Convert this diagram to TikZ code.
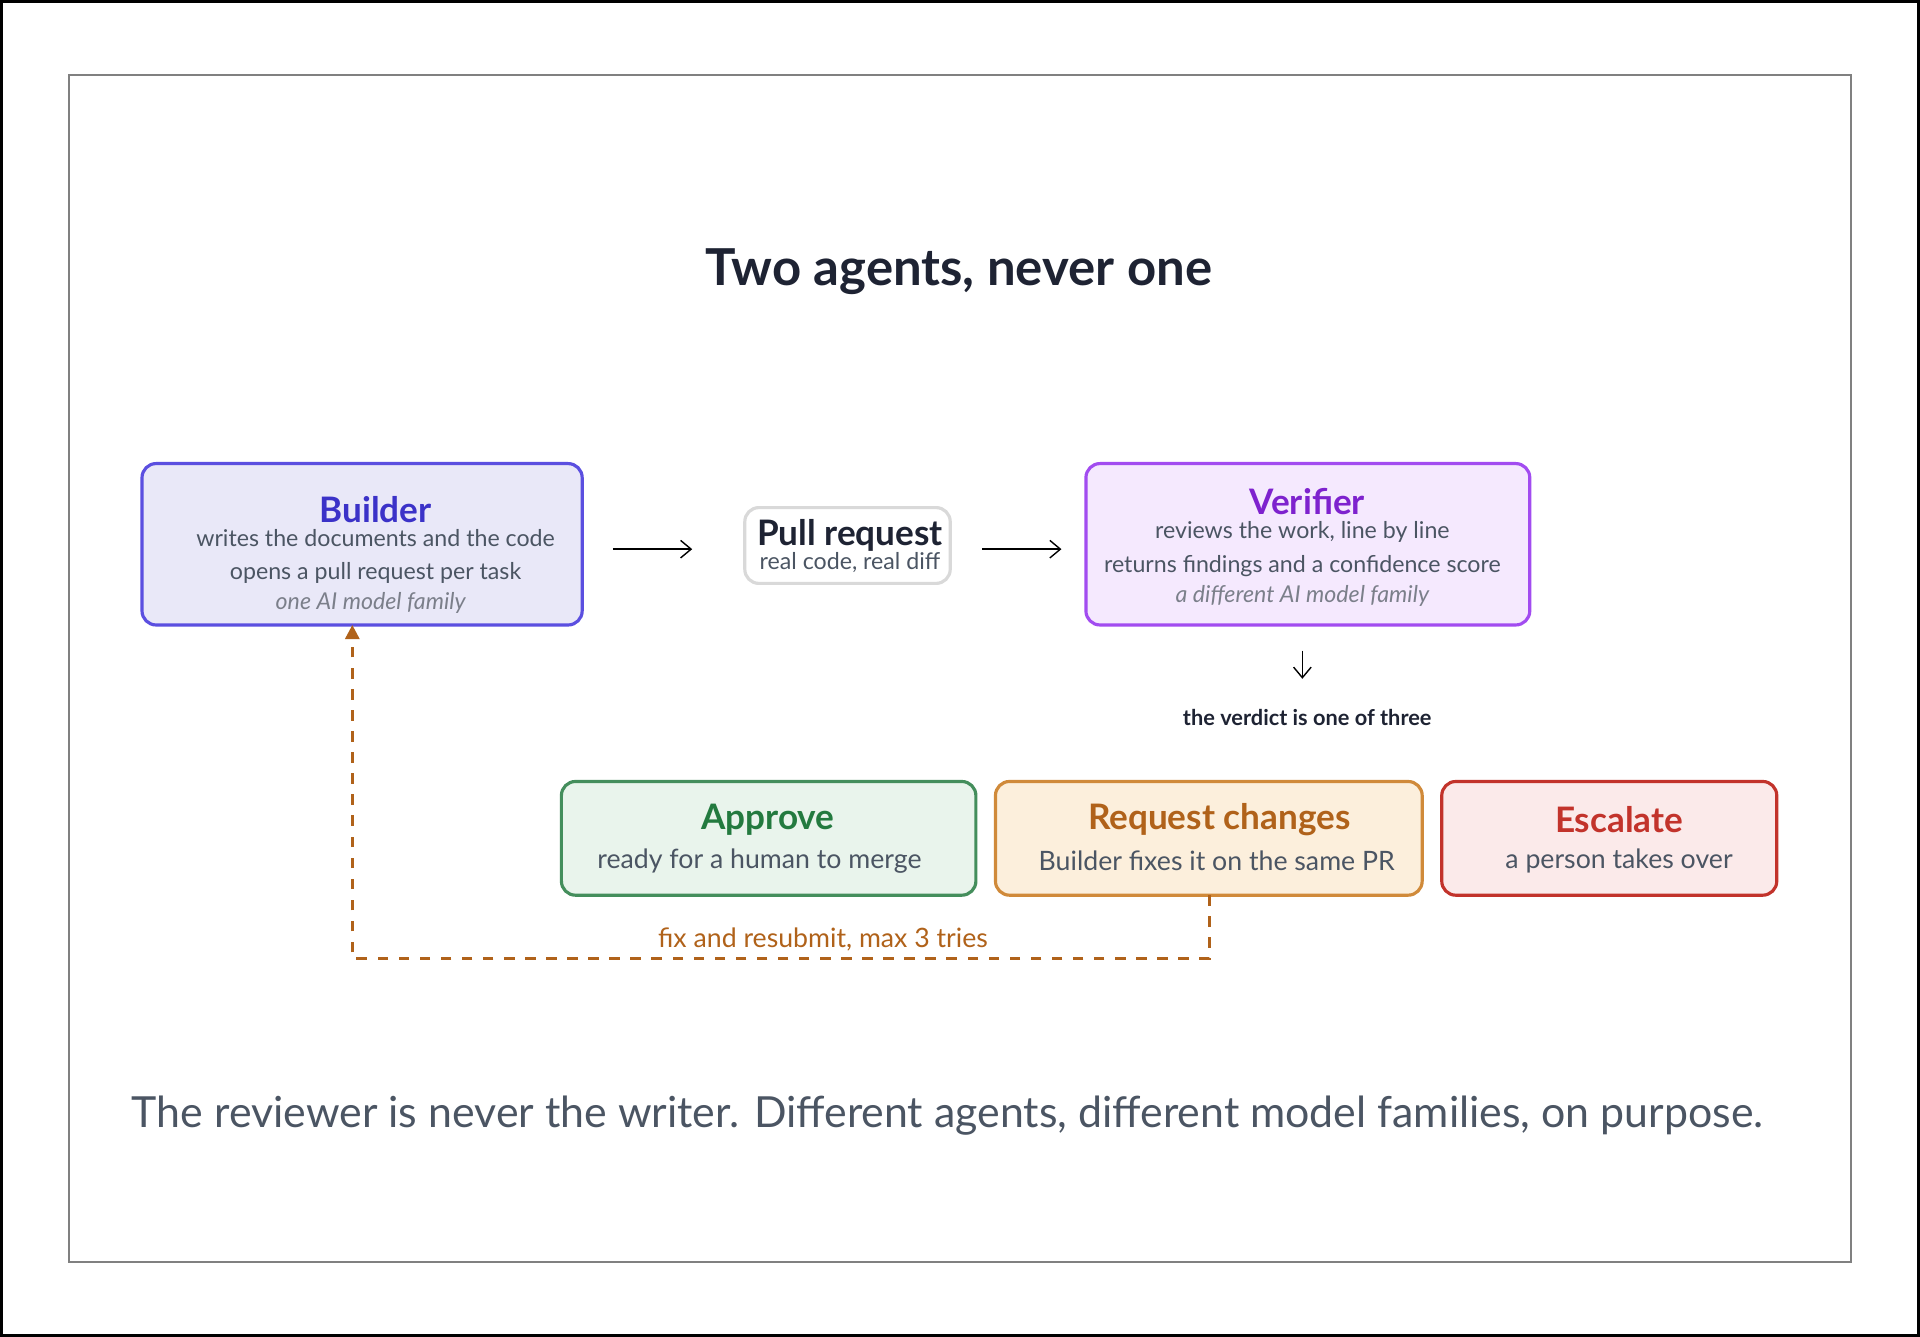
\documentclass[tikz,border=0pt]{standalone}
\usepackage{fontspec}
\setmainfont{Lato}
\usepackage{xcolor}
\usetikzlibrary{arrows.meta, positioning}
\definecolor{ink}{HTML}{1E2333}
\definecolor{muted}{HTML}{4B5563}
\definecolor{faint}{HTML}{7B7F8A}
\definecolor{buildblue}{HTML}{3B32C8}
\definecolor{buildline}{HTML}{5B4FE0}
\definecolor{buildfill}{HTML}{E9E8F8}
\definecolor{verpurple}{HTML}{7E22CE}
\definecolor{verline}{HTML}{A24CF0}
\definecolor{verfill}{HTML}{F5E9FE}
\definecolor{okgreen}{HTML}{237A3F}
\definecolor{okfill}{HTML}{E9F4EC}
\definecolor{chgorange}{HTML}{B0621A}
\definecolor{chgline}{HTML}{D08A3A}
\definecolor{chgfill}{HTML}{FCEFDC}
\definecolor{escred}{HTML}{C2332B}
\definecolor{escfill}{HTML}{FBEAEA}
\tikzset{
    card/.style={rectangle, rounded corners=4pt, draw, line width=0.9pt},
    heading/.style={font=\bfseries\fontsize{10}{12}\selectfont},
    detail/.style={font=\fontsize{6.6}{9.6}\selectfont, text=muted, align=center},
    note/.style={font=\itshape\fontsize{6.6}{8}\selectfont, text=faint},
    flow/.style={-{Straight Barb[length=3pt,width=5pt]}, thin}
}
\begin{document}
\begin{tikzpicture}[x=0.012245cm, y=-0.012245cm]
    % frame
    \draw[black, line width=0.8pt] (0,0) rectangle (1568,1091);
    \useasboundingbox (0,0) rectangle (1568,1091);
    \draw[gray, line width=0.5pt] (55,60) rectangle (1513,1031);

    \node[font=\bfseries\fontsize{14.5}{17}\selectfont, text=ink] (title) at (783,221) {Two agents, never one};

    % Builder
    \draw[card, draw=buildline, fill=buildfill] (115,378) rectangle (475,510);
    \node[heading, text=buildblue] (builder) at (306,416) {Builder};
    \node[detail] (builderdo) at (306,454) {writes the documents and the code\\opens a pull request per task};
    \node[note] (builderfam) at (302,492) {one AI model family};
    \coordinate (builderbot) at (287,510);

    % Pull request
    \draw[card, draw=gray!30, fill=white] (608,414) rectangle (776,476);
    \node[heading, text=ink] (pr) at (694,437) {Pull request};
    \node[detail] (prsub) at (694,459) {real code, real diff};

    % Verifier
    \draw[card, draw=verline, fill=verfill] (887,378) rectangle (1250,510);
    \node[heading, text=verpurple] (verifier) at (1068,409) {Verifier};
    \node[detail] (verdo) at (1064,448) {reviews the work, line by line\\returns findings and a confidence score};
    \node[note] (verfam) at (1064,486) {a different AI model family};

    \coordinate (a1) at (500,448); \coordinate (a2) at (565,448);
    \coordinate (b1) at (802,448); \coordinate (b2) at (867,448);
    \coordinate (c1) at (1064,531); \coordinate (c2) at (1064,554);
    \draw[flow] (a1) -- (a2);
    \draw[flow] (b1) -- (b2);
    \draw[flow] (c1) -- (c2);
    \node[font=\bfseries\fontsize{6.2}{8}\selectfont, text=ink] (verdict) at (1068,586) {the verdict is one of three};

    % outcomes
    \draw[card, draw=okgreen!85, fill=okfill] (458,638) rectangle (797,731);
    \node[heading, text=okgreen] (approve) at (627,669) {Approve};
    \node[detail, font=\fontsize{7.6}{9}\selectfont] (approvesub) at (620,703) {ready for a human to merge};

    \draw[card, draw=chgline, fill=chgfill] (813,638) rectangle (1162,731);
    \node[heading, text=chgorange] (changes) at (996,669) {Request changes};
    \node[detail, font=\fontsize{7.6}{9}\selectfont] (changessub) at (994,703) {Builder fixes it on the same PR};
    \coordinate (changesbot) at (988,731);

    \draw[card, draw=escred, fill=escfill] (1178,638) rectangle (1452,731);
    \node[heading, text=escred] (escalate) at (1323,669) {Escalate};
    \node[detail, font=\fontsize{7.6}{9}\selectfont] (escalatesub) at (1323,703) {a person takes over};

    % retry loop
    \draw[-{Triangle[length=4pt,width=4pt]}, chgorange, dashed, line width=0.8pt] (changesbot) -- (988,783) -- (287,783) -- (builderbot);
    \node[font=\fontsize{7.6}{9}\selectfont, text=chgorange] (retry) at (672,767) {fix and resubmit, max 3 tries};

    \node[font=\fontsize{12.2}{14}\selectfont, text=muted] (caption) at (774,911) {The reviewer is never the writer. Different agents, different model families, on purpose.};
\end{tikzpicture}
\end{document}
